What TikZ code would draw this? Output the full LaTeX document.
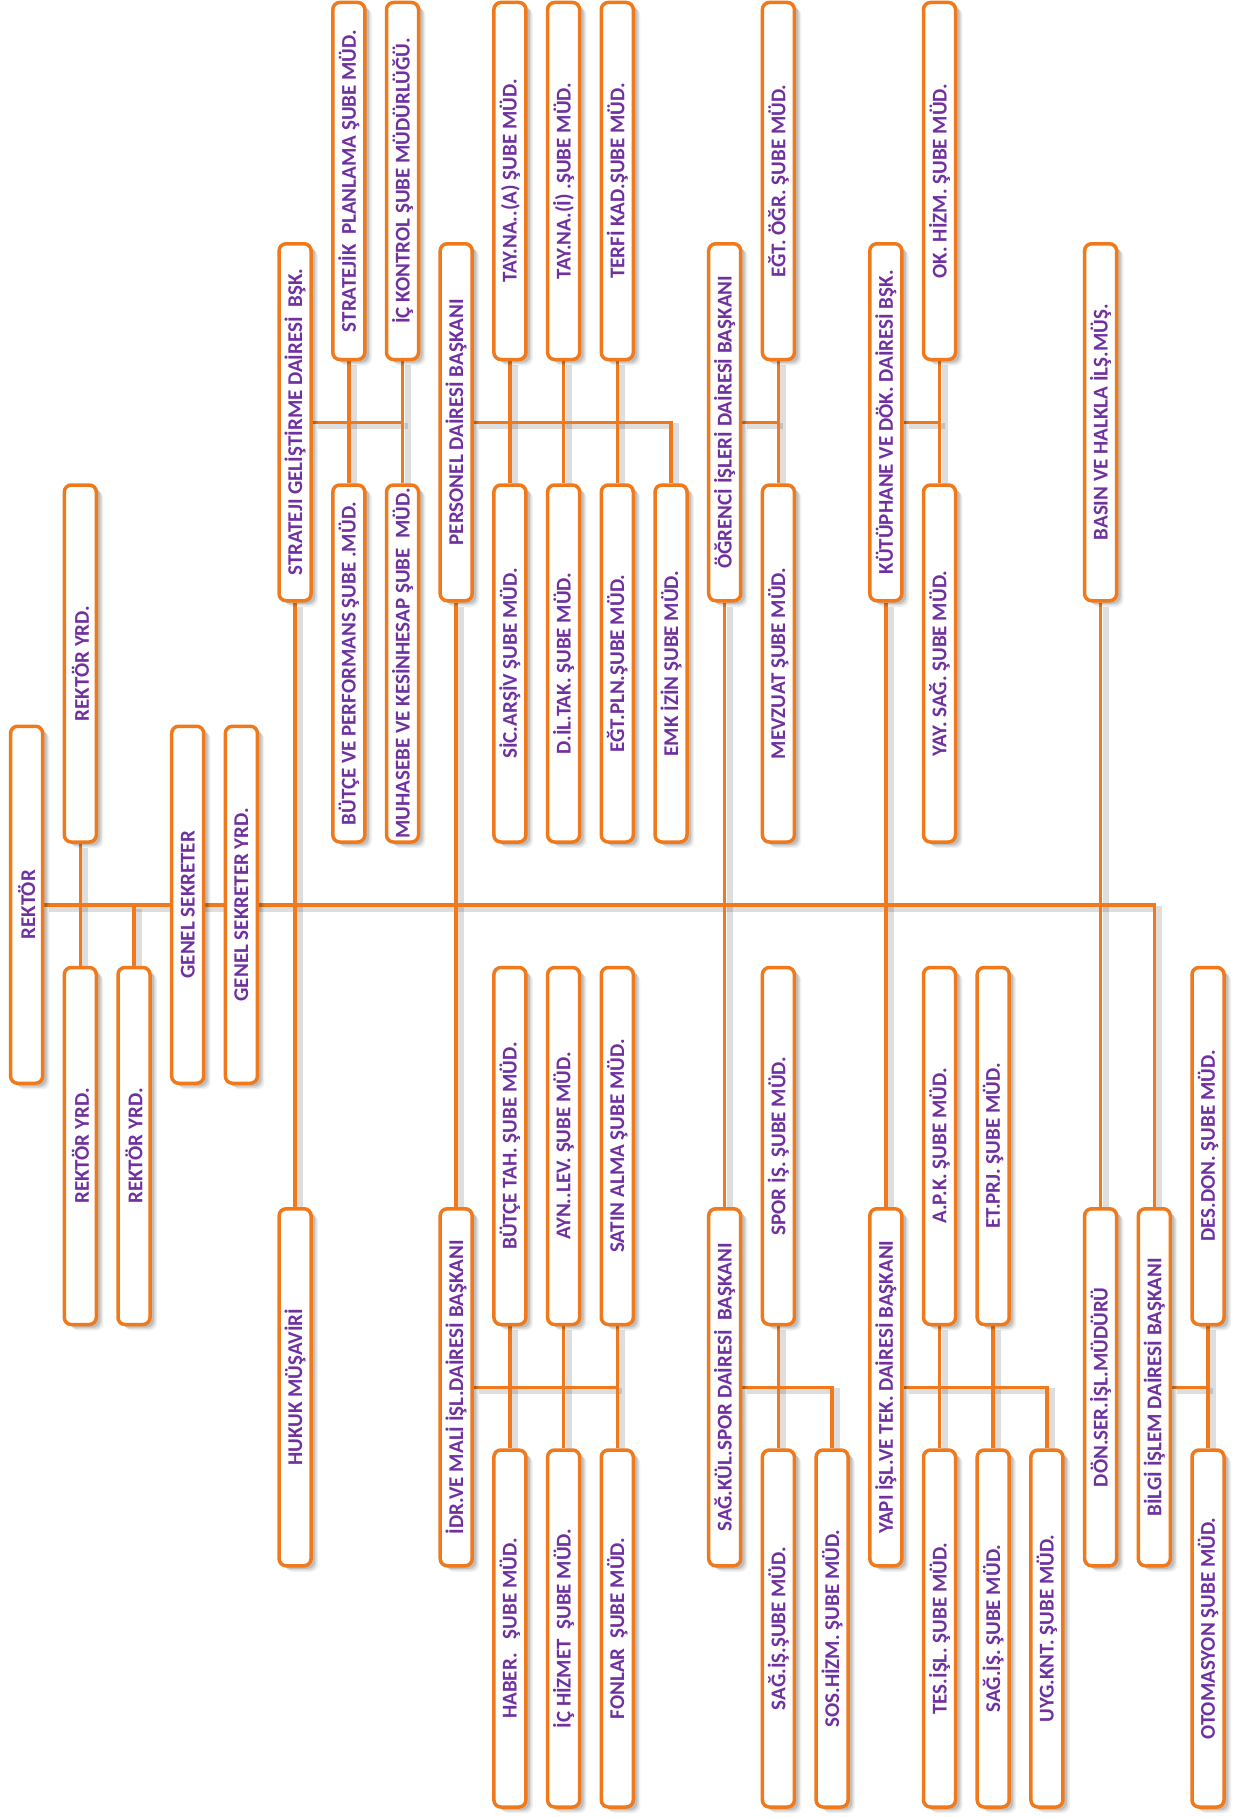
\documentclass[tikz,border=0pt]{standalone}
\usepackage{fontspec}
\setmainfont{Carlito}
\usepackage{graphicx}
\usetikzlibrary{shadows}
\definecolor{org}{RGB}{240,122,27}
\definecolor{purp}{RGB}{112,48,160}
\pgfdeclarelayer{back}\pgfdeclarelayer{bg}\pgfsetlayers{back,bg,main}
\newcommand\orgbox[4]{\node[box] (#1) at ({26.6+53.7*#2},{-181-241.25*#3}) {\rotatebox{90}{#4}};}
\begin{document}
\begin{tikzpicture}[x=1pt,y=1pt,
 box/.style={draw=org, line width=3.5pt, fill=white, rounded corners=7pt,
   minimum width=32pt, minimum height=357pt, inner sep=0pt, text=purp,
   font=\fontsize{21pt}{21pt}\selectfont\bfseries,
   drop shadow={shadow xshift=7pt, shadow yshift=-6pt, fill=black, opacity=.06},
   drop shadow={shadow xshift=5.5pt, shadow yshift=-4.5pt, fill=black, opacity=.09},
   drop shadow={shadow xshift=4pt, shadow yshift=-3pt, fill=black, opacity=.12}},
 conn/.style={draw=org, line width=3.5pt},
]
\begin{pgfonlayer}{back}
\fill[white] (0,0) rectangle (1244,-1817);
\end{pgfonlayer}
\useasboundingbox (0,0) rectangle (1244,-1817);
% row A
\orgbox{stp}{6}{0}{STRATEJİK\ \ PLANLAMA ŞUBE MÜD.}
\orgbox{ick}{7}{0}{İÇ KONTROL ŞUBE MÜDÜRLÜĞÜ.}
\orgbox{tayA}{9}{0}{TAY.NA..(A) ŞUBE MÜD.}
\orgbox{tayI}{10}{0}{TAY.NA.(İ) .ŞUBE MÜD.}
\orgbox{terfi}{11}{0}{TERFİ KAD.ŞUBE MÜD.}
\orgbox{egtogr}{14}{0}{EĞT. ÖĞR. ŞUBE MÜD.}
\orgbox{ok}{17}{0}{OK. HİZM. ŞUBE MÜD.}
% row B
\orgbox{sgd}{5}{1}{STRATEJI GELİŞTİRME DAİRESİ\ \ BŞK.}
\orgbox{per}{8}{1}{PERSONEL DAİRESİ BAŞKANI}
\orgbox{ogr}{13}{1}{ÖĞRENCİ İŞLERİ DAİRESİ BAŞKANI}
\orgbox{kut}{16}{1}{KÜTÜPHANE VE DÖK. DAİRESİ BŞK.}
\orgbox{basin}{20}{1}{BASIN VE HALKLA İLŞ.MÜŞ.}
% row C
\orgbox{ry1}{1}{2}{REKTÖR YRD.}
\orgbox{bp}{6}{2}{BÜTÇE VE PERFORMANS ŞUBE .MÜD.}
\orgbox{muh}{7}{2}{MUHASEBE VE KESİNHESAP ŞUBE\ \ MÜD.}
\orgbox{sic}{9}{2}{SİC.ARŞİV ŞUBE MÜD.}
\orgbox{dil}{10}{2}{D.İL.TAK. ŞUBE MÜD.}
\orgbox{egtpln}{11}{2}{EĞT.PLN.ŞUBE MÜD.}
\orgbox{emk}{12}{2}{EMK İZİN ŞUBE MÜD.}
\orgbox{mevzuat}{14}{2}{MEVZUAT ŞUBE MÜD.}
\orgbox{yay}{17}{2}{YAY. SAĞ. ŞUBE MÜD.}
% row D
\orgbox{rek}{0}{3}{REKTÖR}
\orgbox{gs}{3}{3}{GENEL SEKRETER}
\orgbox{gsy}{4}{3}{GENEL SEKRETER YRD.}
% row E
\orgbox{ry2}{1}{4}{REKTÖR YRD.}
\orgbox{ry3}{2}{4}{REKTÖR YRD.}
\orgbox{btah}{9}{4}{BÜTÇE TAH. ŞUBE MÜD.}
\orgbox{ayn}{10}{4}{AYN..LEV. ŞUBE MÜD.}
\orgbox{satin}{11}{4}{SATIN ALMA ŞUBE MÜD.}
\orgbox{spor}{14}{4}{SPOR İŞ. ŞUBE MÜD.}
\orgbox{apk}{17}{4}{A.P.K. ŞUBE MÜD.}
\orgbox{etprj}{18}{4}{ET.PRJ. ŞUBE MÜD.}
\orgbox{des}{22}{4}{DES.DON. ŞUBE MÜD.}
% row F
\orgbox{hukuk}{5}{5}{HUKUK MÜŞAVİRİ}
\orgbox{idr}{8}{5}{İDR.VE MALİ İŞL.DAİRESİ BAŞKANI}
\orgbox{sks}{13}{5}{SAĞ.KÜL.SPOR DAİRESİ\ \ BAŞKANI}
\orgbox{yapi}{16}{5}{YAPI İŞL.VE TEK. DAİRESİ BAŞKANI}
\orgbox{don}{20}{5}{DÖN.SER.İŞL.MÜDÜRÜ}
\orgbox{bilgi}{21}{5}{BİLGİ İŞLEM DAİRESİ BAŞKANI}
% row G
\orgbox{haber}{9}{6}{HABER.\ \ \ ŞUBE MÜD.}
\orgbox{ichiz}{10}{6}{İÇ HİZMET\ \ ŞUBE MÜD.}
\orgbox{fonlar}{11}{6}{FONLAR\ \ ŞUBE MÜD.}
\orgbox{sagis}{14}{6}{SAĞ.İŞ.ŞUBE MÜD.}
\orgbox{sos}{15}{6}{SOS.HİZM. ŞUBE MÜD.}
\orgbox{tes}{17}{6}{TES.İŞL. ŞUBE MÜD.}
\orgbox{sagis2}{18}{6}{SAĞ.İŞ. ŞUBE MÜD.}
\orgbox{uyg}{19}{6}{UYG.KNT. ŞUBE MÜD.}
\orgbox{oto}{22}{6}{OTOMASYON ŞUBE MÜD.}
\newcommand\orglinks{%
 \draw[conn] (rek.east) -| (bilgi.north);
 \draw[conn] (ry1.south) -- (ry2.north);
 \draw[conn] (ry3.north) -- (ry3.north |- rek.east);
 \draw[conn] (sgd.south) -- (hukuk.north);
 \draw[conn] (per.south) -- (idr.north);
 \draw[conn] (ogr.south) -- (sks.north);
 \draw[conn] (kut.south) -- (yapi.north);
 \draw[conn] (basin.south) -- (don.north);
 \draw[conn] (sgd.east) -- (muh.north |- sgd.east);
 \draw[conn] (stp.south) -- (bp.north);
 \draw[conn] (ick.south) -- (muh.north);
 \draw[conn] (per.east) -| (emk.north);
 \draw[conn] (tayA.south) -- (sic.north);
 \draw[conn] (tayI.south) -- (dil.north);
 \draw[conn] (terfi.south) -- (egtpln.north);
 \draw[conn] (ogr.east) -- (egtogr.south |- ogr.east);
 \draw[conn] (egtogr.south) -- (mevzuat.north);
 \draw[conn] (kut.east) -- (ok.south |- kut.east);
 \draw[conn] (ok.south) -- (yay.north);
 \draw[conn] (idr.east) -- (satin.south |- idr.east);
 \draw[conn] (btah.south) -- (haber.north);
 \draw[conn] (ayn.south) -- (ichiz.north);
 \draw[conn] (satin.south) -- (fonlar.north);
 \draw[conn] (sks.east) -| (sos.north);
 \draw[conn] (spor.south) -- (sagis.north);
 \draw[conn] (yapi.east) -| (uyg.north);
 \draw[conn] (apk.south) -- (tes.north);
 \draw[conn] (etprj.south) -- (sagis2.north);
 \draw[conn] (bilgi.east) -- (des.south |- bilgi.east);
 \draw[conn] (des.south) -- (oto.north);
}
\begin{pgfonlayer}{bg}
\begin{scope}[transform canvas={xshift=5pt,yshift=-4pt}, conn/.style={draw=black, opacity=.13, line width=6pt}]
\orglinks
\end{scope}
\orglinks
\end{pgfonlayer}
\end{tikzpicture}
\end{document}
